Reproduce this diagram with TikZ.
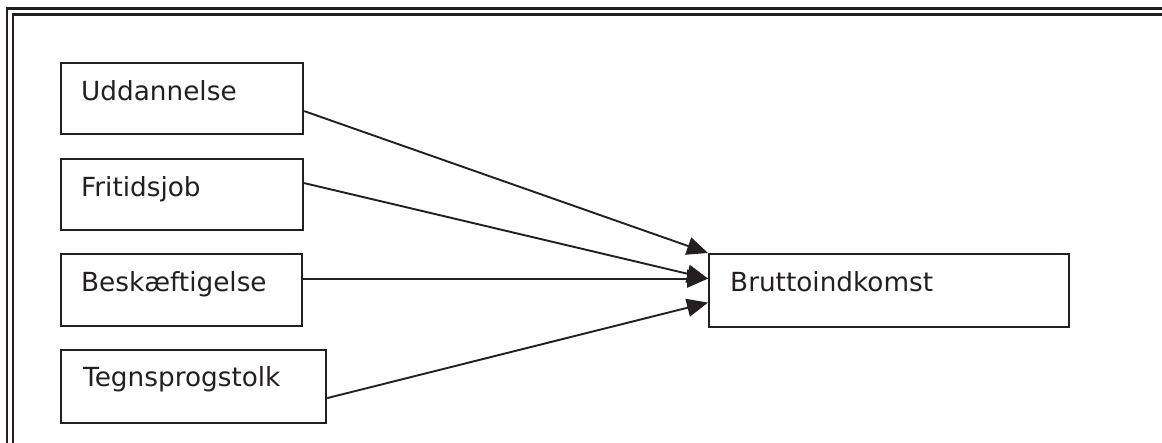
\documentclass[tikz,border=0pt]{standalone}
\usepackage{fontspec}
\setmainfont{DejaVu Sans}
\usetikzlibrary{arrows.meta}
\definecolor{ink}{HTML}{231F20}
\begin{document}
\begin{tikzpicture}[x=1pt,y=-1pt,
  box/.style={draw=ink,line width=2.2pt,anchor=north west,inner sep=0pt},
  lbl/.style={anchor=base west,inner sep=0pt,text=ink,font=\fontsize{26.3}{31}\selectfont},
  conn/.style={draw=ink,line width=1.9pt,-{Triangle[length=21pt,width=18pt]}},
  frame/.style={draw=ink,line width=2.3pt}]
\useasboundingbox (0,0) rectangle (1162,443);
% double frame (right and bottom sides lie outside the picture)
\draw[frame] (7,460) -- (7,8.5) -- (1180,8.5);
\draw[frame] (13,460) -- (13,14.5) -- (1180,14.5);
% boxes
\node[box,minimum width=242pt,minimum height=71pt] (u) at (60,62) {};
\node[box,minimum width=242pt,minimum height=71pt] (f) at (60,158) {};
\node[box,minimum width=241pt,minimum height=72pt] (be) at (60,253) {};
\node[box,minimum width=265pt,minimum height=73pt] (t) at (60,349) {};
\node[box,minimum width=360pt,minimum height=73pt] (br) at (708,253) {};
% labels
\node[lbl] (ut) at ([xshift=21pt,yshift=-39pt]u.north west) {Uddannelse};
\node[lbl] (ft) at ([xshift=21pt,yshift=-39pt]f.north west) {Fritidsjob};
\node[lbl] (bet) at ([xshift=21pt,yshift=-39pt]be.north west) {Beskæftigelse};
\node[lbl] (tt) at ([xshift=23pt,yshift=-38pt]t.north west) {Tegnsprogstolk};
\node[lbl] (brt) at ([xshift=22pt,yshift=-39pt]br.north west) {Bruttoindkomst};
% connectors
\draw[conn] ([yshift=-12.5pt]u.east) -- (br.north west);
\draw[conn] ([yshift=11.5pt]f.east) -- ([yshift=12pt]br.west);
\draw[conn] ([yshift=11.5pt]be.east) -- ([yshift=12pt]br.west);
\draw[conn] ([yshift=-11.5pt]t.east) -- ([yshift=-12pt]br.west);
\end{tikzpicture}
\end{document}
